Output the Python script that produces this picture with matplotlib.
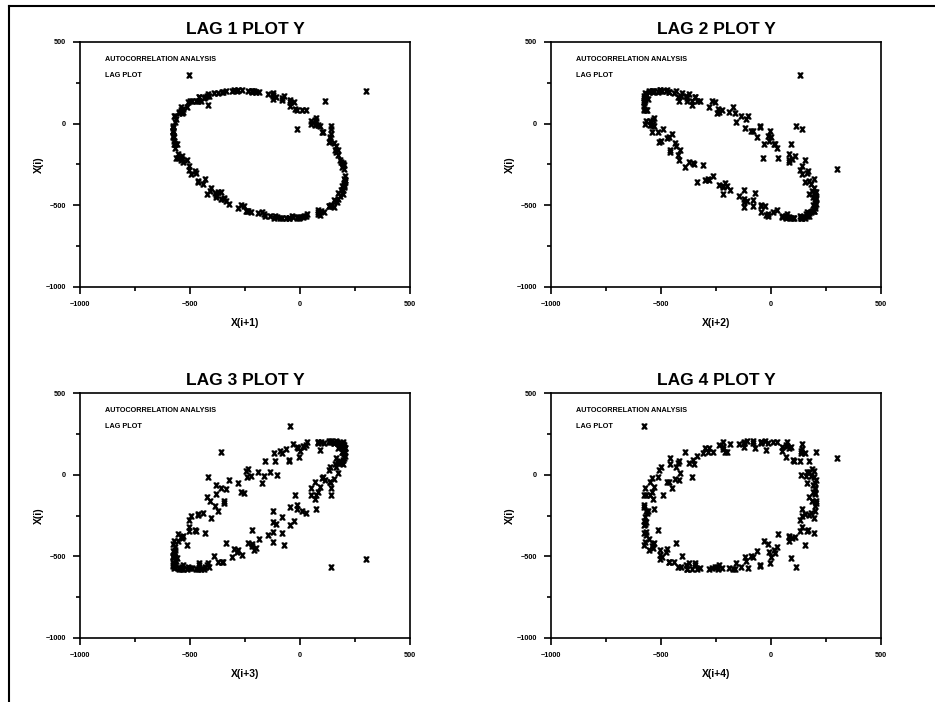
import matplotlib
matplotlib.use("Agg")
from matplotlib import pyplot as plt
from matplotlib.lines import Line2D
from matplotlib.ticker import MultipleLocator

plt.rcParams['font.family'] = ['Liberation Sans', 'DejaVu Sans']
plt.rcParams['mathtext.fontset'] = 'custom'
plt.rcParams['mathtext.bf'] = 'Liberation Sans:bold'

# beam deflection series Y (200 observations)
y = [-213, -564, -35, -15, 141, 115, -420, -360, 203, -338, -431, 194, -220, -513, 154,
     -125, -559, 92, -21, -579, -52, 99, -543, -175, 162, -457, -346, 204, -300, -474,
     164, -107, -572, -8, 83, -541, -224, 180, -420, -374, 201, -236, -531, 83, 27,
     -564, -112, 131, -507, -254, 199, -311, -495, 143, -46, -579, -90, 136, -472, -338,
     202, -287, -477, 169, -124, -568, 17, 48, -568, -135, 162, -430, -422, 172, -74,
     -577, -13, 92, -534, -243, 194, -355, -465, 156, -81, -578, -64, 139, -449, -384,
     193, -198, -538, 110, -44, -577, -6, 66, -552, -164, 161, -460, -344, 205, -281,
     -504, 134, -28, -576, -118, 156, -437, -381, 200, -220, -540, 83, 11, -568, -160,
     172, -414, -408, 188, -125, -572, -32, 139, -492, -321, 205, -262, -504, 142, -83,
     -574, 0, 48, -571, -106, 137, -501, -266, 190, -391, -406, 194, -186, -553, 83,
     -13, -577, -49, 103, -515, -280, 201, 300, -506, 131, -45, -578, -80, 138, -462,
     -361, 201, -211, -554, 32, 74, -533, -235, 187, -372, -442, 182, -147, -566, 25,
     68, -535, -244, 194, -351, -463, 174, -125, -570, 15, 72, -550, -190, 172, -424,
     -385, 198, -218, -536, 96]
lags = [1, 2, 3, 4]

fig = plt.figure(figsize=(9.35, 7.02), dpi=100)

# outer frame (left and top edges)
fig.add_artist(Line2D([9 / 935, 9 / 935], [0, 1 - 6 / 702], transform=fig.transFigure, color='black', lw=1.5))
fig.add_artist(Line2D([9 / 935, 1], [1 - 6 / 702, 1 - 6 / 702], transform=fig.transFigure, color='black', lw=1.5))

lefts = [80 / 935, 551 / 935]
bottoms = [(702 - 287) / 702, (702 - 638) / 702]
w = 330 / 935
h = 245 / 702

for k, lag in enumerate(lags):
    ax = fig.add_axes([lefts[k % 2], bottoms[k // 2], w, h])
    xs = y[lag:]
    ys = y[:len(y) - lag]
    ax.plot(xs, ys, linestyle='none', marker=r'$\mathbf{x}$', ms=3.6, color='black')
    ax.set_xlim(-1000, 500)
    ax.set_ylim(-1000, 500)
    ax.xaxis.set_major_locator(MultipleLocator(500))
    ax.yaxis.set_major_locator(MultipleLocator(500))
    ax.xaxis.set_minor_locator(MultipleLocator(250))
    ax.yaxis.set_minor_locator(MultipleLocator(250))
    ax.tick_params(which='major', direction='out', length=5, width=1.2, labelsize=5.2, pad=5)
    ax.tick_params(which='minor', direction='out', length=3, width=1.2)
    for lbl in ax.get_xticklabels() + ax.get_yticklabels():
        lbl.set_fontweight('bold')
    for s in ax.spines.values():
        s.set_linewidth(1.2)
    ax.set_title('LAG %d PLOT Y' % lag, fontsize=12.5, fontweight='bold', pad=6)
    ax.set_xlabel('X(i+%d)' % lag, fontsize=7.5, fontweight='bold', labelpad=7)
    ax.set_ylabel('X(i)', fontsize=7.5, fontweight='bold', labelpad=1.5)
    ax.text(0.076, 0.927, 'AUTOCORRELATION ANALYSIS', transform=ax.transAxes,
            fontsize=5.2, fontweight='bold', va='center')
    ax.text(0.076, 0.865, 'LAG PLOT', transform=ax.transAxes,
            fontsize=5.2, fontweight='bold', va='center')

fig.savefig('out.png', dpi=100)
